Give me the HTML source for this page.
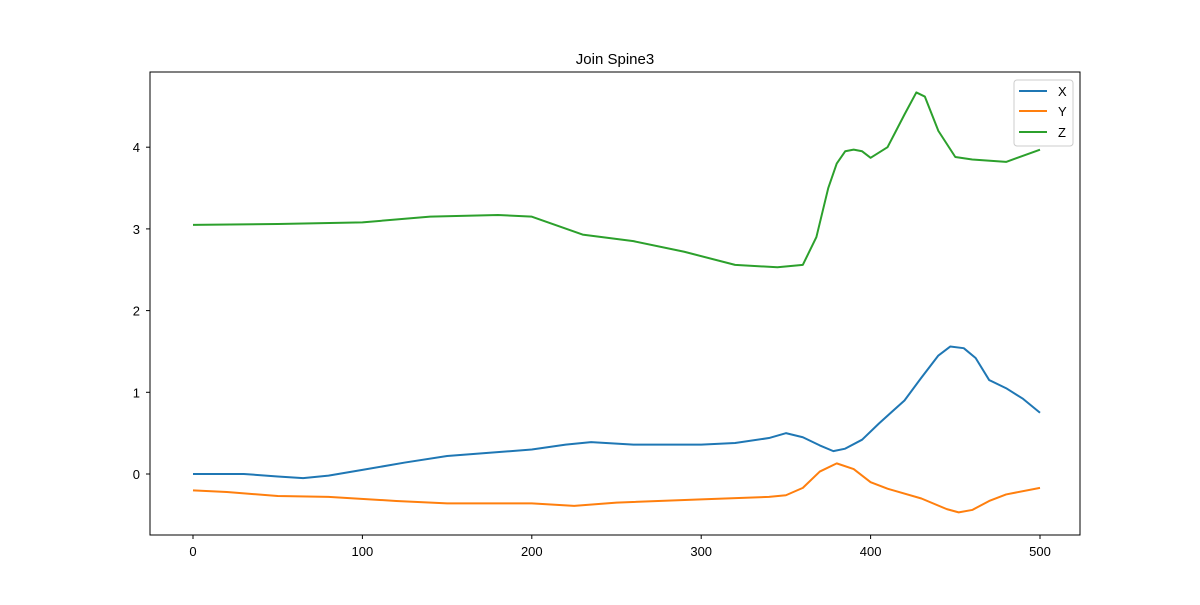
<!DOCTYPE html>
<html><head><meta charset="utf-8"><style>body{margin:0;background:#fff}svg{font-family:"Liberation Sans","DejaVu Sans",sans-serif}</style></head>
<body>
<svg id="chart" width="1200" height="600" viewBox="0 0 1200 600" xmlns="http://www.w3.org/2000/svg">
<rect width="1200" height="600" fill="#fff"/>
<text x="615" y="64" font-size="15" text-anchor="middle">Join Spine3</text>
<g id="marks"></g>
<g id="axes"></g>
<rect x="150" y="72" width="930" height="463" fill="none" stroke="#000" stroke-width="1"/>
<g>
<rect x="1014" y="80" width="59" height="66" rx="3" fill="#fff" fill-opacity="0.8" stroke="#ccc"/>
<line x1="1019" y1="91" x2="1047" y2="91" stroke="#1f77b4" stroke-width="2"/><text x="1058" y="96" font-size="13">X</text>
<line x1="1019" y1="111" x2="1047" y2="111" stroke="#ff7f0e" stroke-width="2"/><text x="1058" y="116" font-size="13">Y</text>
<line x1="1019" y1="132" x2="1047" y2="132" stroke="#2ca02c" stroke-width="2"/><text x="1058" y="137" font-size="13">Z</text>
</g>
</svg>
<script>
const xFrames=[0,30,50,65,80,100,125,150,175,200,220,235,260,300,320,340,350,360,370,378,385,395,405,420,430,440,447,455,462,470,480,490,500];
const xValues=[0,0,-0.03,-0.05,-0.02,0.05,0.14,0.22,0.26,0.3,0.36,0.39,0.36,0.36,0.38,0.44,0.5,0.45,0.35,0.28,0.31,0.42,0.62,0.9,1.18,1.45,1.56,1.54,1.42,1.15,1.05,0.92,0.75];
const yFrames=[0,20,50,80,120,150,200,225,250,300,340,350,360,370,380,390,400,410,430,445,452,460,470,480,500];
const yValues=[-0.2,-0.22,-0.27,-0.28,-0.33,-0.36,-0.36,-0.39,-0.35,-0.31,-0.28,-0.26,-0.17,0.03,0.13,0.06,-0.1,-0.18,-0.3,-0.43,-0.47,-0.44,-0.33,-0.25,-0.17];
const zFrames=[0,50,100,140,180,200,230,260,290,320,345,360,368,375,380,385,390,395,400,410,415,420,427,432,440,450,460,480,500];
const zValues=[3.05,3.06,3.08,3.15,3.17,3.15,2.93,2.85,2.72,2.56,2.53,2.56,2.9,3.5,3.8,3.95,3.97,3.95,3.87,4.0,4.2,4.4,4.67,4.62,4.2,3.88,3.85,3.82,3.97];
const xTicks=[0,100,200,300,400,500];
const yTicks=[0,1,2,3,4];
const sx=v=>193+v*(1040-193)/500;
const sy=v=>474-v*81.7;
const NS="http://www.w3.org/2000/svg";
const marks=document.getElementById('marks'),axes=document.getElementById('axes');
function series(fr,vals,color,name){
  const p=document.createElementNS(NS,'polyline');
  
  
  p.setAttribute('points',fr.map((f,i)=>sx(f)+','+sy(vals[i])).join(' '));
  p.setAttribute('fill','none');p.setAttribute('stroke',color);p.setAttribute('stroke-width','2');p.setAttribute('stroke-linejoin','round');
  marks.appendChild(p);
}
series(xFrames,xValues,'#1f77b4','series-x');
series(yFrames,yValues,'#ff7f0e','series-y');
series(zFrames,zValues,'#2ca02c','series-z');
xTicks.forEach(t=>{
  const l=document.createElementNS(NS,'line');
  
  
  l.setAttribute('x1',sx(t));l.setAttribute('x2',sx(t));l.setAttribute('y1',535);l.setAttribute('y2',539);l.setAttribute('stroke','#000');
  axes.appendChild(l);
  const tx=document.createElementNS(NS,'text');
  
  
  tx.setAttribute('x',sx(t));tx.setAttribute('y',556);tx.setAttribute('font-size','13');tx.setAttribute('text-anchor','middle');
  tx.textContent=t;axes.appendChild(tx);
});
yTicks.forEach(t=>{
  const l=document.createElementNS(NS,'line');
  
  
  l.setAttribute('x1',146);l.setAttribute('x2',150);l.setAttribute('y1',sy(t));l.setAttribute('y2',sy(t));l.setAttribute('stroke','#000');
  axes.appendChild(l);
  const tx=document.createElementNS(NS,'text');
  
  
  tx.setAttribute('x',140);tx.setAttribute('y',sy(t)+5);tx.setAttribute('font-size','13');tx.setAttribute('text-anchor','end');
  tx.textContent=t;axes.appendChild(tx);
});
</script>
</body></html>
